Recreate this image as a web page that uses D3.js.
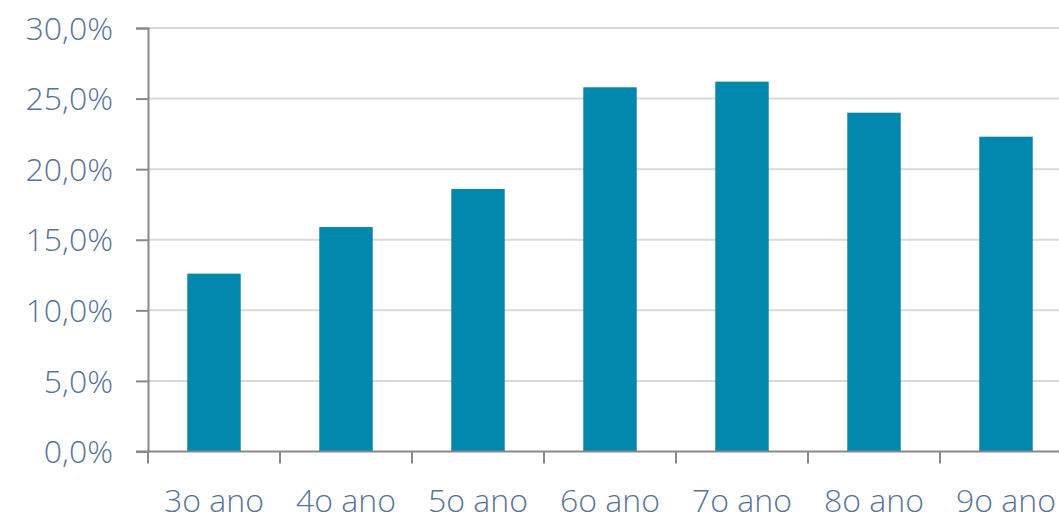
<!DOCTYPE html>
<html>
<head>
<meta charset="utf-8">
<script src="https://cdn.jsdelivr.net/npm/d3@7"></script>
<style>
  html, body { margin: 0; padding: 0; background: #fff; overflow: hidden; }
  text { font-family: "Open Sans", sans-serif; font-weight: 300; fill: #5b7497; }
</style>
</head>
<body>
<div class="vis-barchart"></div>
<script>
const categories = ["3o ano", "4o ano", "5o ano", "6o ano", "7o ano", "8o ano", "9o ano"];
const values = [12.6, 15.9, 18.6, 25.8, 26.2, 24.0, 22.3];
const yTicks = [0, 5, 10, 15, 20, 25, 30];

const width = 1059, height = 516;
const margin = { top: 28, left: 148, bottom: 64 };
const step = 132;

const svg = d3.select(".vis-barchart")
    .append("svg")
    .attr("width", width)
    .attr("height", height)
    .attr("viewBox", "0 0 " + width + " " + height);

// x: bands of 132px, the last one runs past the right edge
let x = d3.scaleBand()
    .domain(categories)
    .range([margin.left, margin.left + step * categories.length])
    .paddingInner(0.595)
    .paddingOuter(0.2975);

let y = d3.scaleLinear()
    .domain([0, 30])
    .range([height - margin.bottom - 0.5, margin.top]);

// gridlines
svg.append("g")
    .selectAll("line")
    .data(yTicks.slice(1))
    .join("line")
    .attr("x1", margin.left)
    .attr("x2", width)
    .attr("y1", d => y(d))
    .attr("y2", d => y(d))
    .attr("stroke", "#d9d9d9")
    .attr("stroke-width", 2);

// bars
svg.append("g")
    .selectAll("rect")
    .data(values)
    .join("rect")
    .attr("x", (d, i) => x(categories[i]))
    .attr("width", x.bandwidth())
    .attr("y", d => y(d))
    .attr("height", d => y(0) - y(d))
    .attr("fill", "#0288ad");

// y axis
const fmt = d => d3.format(".1f")(d).replace(".", ",") + "%";
const yAxis = svg.append("g")
    .attr("transform", "translate(" + margin.left + ",0)")
    .call(d3.axisLeft(y).tickValues(yTicks).tickFormat(fmt).tickSize(12).tickPadding(23));
yAxis.select(".domain").attr("stroke", "#898989").attr("stroke-width", 2);
yAxis.selectAll(".tick line").attr("stroke", "#898989").attr("stroke-width", 2);
yAxis.selectAll(".tick text")
    .attr("font-family", null)
    .style("font-size", "32px")
    .attr("dy", "0.35em");

// x axis: ticks at band boundaries, labels at band centres
const bounds = d3.range(categories.length + 1).map(i => margin.left + i * step);
const xg = svg.append("g");
xg.append("line")
    .attr("x1", margin.left - 12)
    .attr("x2", width)
    .attr("y1", y(0))
    .attr("y2", y(0))
    .attr("stroke", "#898989")
    .attr("stroke-width", 2);
xg.selectAll(".xt")
    .data(bounds)
    .join("line")
    .attr("class", "xt")
    .attr("x1", d => d)
    .attr("x2", d => d)
    .attr("y1", y(0))
    .attr("y2", y(0) + 12)
    .attr("stroke", "#898989")
    .attr("stroke-width", 2);
xg.selectAll("text")
    .data(categories)
    .join("text")
    .attr("x", d => x(d) + x.bandwidth() / 2)
    .attr("y", 512)
    .attr("text-anchor", "middle")
    .style("font-size", "32px")
    .text(d => d);
</script>
</body>
</html>
